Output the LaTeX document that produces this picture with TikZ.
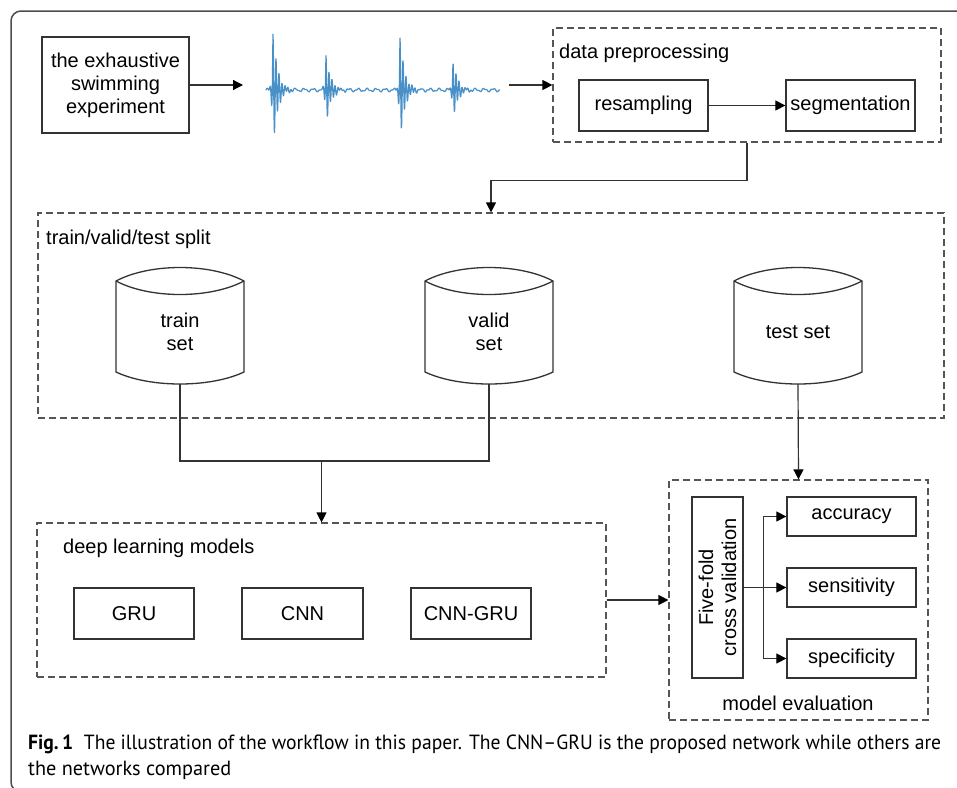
\documentclass[tikz,border=0pt]{standalone}
\usepackage{fontspec}
\setmainfont{Liberation Sans}
\newfontfamily\capfont{PT Sans}
\usetikzlibrary{arrows.meta,calc}
\definecolor{boxc}{HTML}{333333}
\definecolor{dashc}{HTML}{555555}
\definecolor{linec}{HTML}{333333}
\definecolor{wavec}{HTML}{4A90C8}
\definecolor{framec}{HTML}{4D4D4D}
\definecolor{capc}{HTML}{231F20}
\newsavebox\capboxA
\newsavebox\capboxB
\begin{document}
\sbox\capboxA{\capfont\fontsize{20.5}{24}\selectfont\textbf{Fig.\,1}\hspace{0.55em}The illustration of the workflow in this paper. The CNN–GRU is the proposed network while others are}%
\sbox\capboxB{\capfont\fontsize{20.5}{24}\selectfont the networks compared}%
\begin{tikzpicture}[x=1pt,y=-1pt,
  mainfont/.style={font=\fontsize{20}{23}\selectfont},
  box/.style={draw=boxc, line width=1.3pt, inner sep=0pt, align=center, mainfont},
  dbox/.style={draw=dashc, line width=1.2pt, dash pattern=on 7pt off 4pt, inner sep=0pt},
  conn/.style={draw=linec, line width=1.2pt},
  arr/.style={conn, -{Triangle[length=10pt,width=10pt,color=black]}},
  lbl/.style={anchor=west, inner sep=0pt, mainfont},
  cylnode/.style={inner sep=0pt, minimum width=128pt, minimum height=104pt, align=center, mainfont},
  cyl/.style={draw=boxc, line width=1.3pt},
  wave/.style={draw=wavec, line width=1.2pt, line join=round},
  declare function={envl(\t)=exp(max(min(-\t/4.5,\t/1.0),-30));
                    bu(\t)=envl(\t)*cos(mod(\t,3)*120);}
]
\clip (0,0) rectangle (957,787);
\fill[white] (0,0) rectangle (957,787);
% outer frame
\draw[framec, line width=1.5pt, rounded corners=10pt] (965,11) -- (11,11) -- (11,792) -- (965,792);

% top row
\node[box, minimum width=147pt, minimum height=96pt] (exp) at (115.5,85) {the exhaustive\\swimming\\experiment};
\coordinate (ws) at (243,85);
\coordinate (we) at (509,85);
\draw[arr] (exp.east) -- (ws);
\draw[wave] plot[domain=266:500, samples=940] (\x, {90 - 59*bu(\x-273) - 36*bu(\x-326) - 54*bu(\x-400) - 30*bu(\x-453) - 1.3*sin(mod(\x-266,9)*40) - 0.6*sin(mod(\x-266,4)*90)});

\node[dbox, minimum width=388pt, minimum height=114pt] (prep) at (747,85) {};
\node[lbl] (preplbl) at (559,53) {data preprocessing};
\node[box, minimum width=129pt, minimum height=51pt] (res) at (643.5,105.5) {resampling};
\node[box, minimum width=129pt, minimum height=51pt] (seg) at (850.5,105.5) {segmentation};
\draw[arr] (we) -- (prep.west);
\draw[arr] (res.east) -- (seg.west);

% split
\node[dbox, minimum width=906pt, minimum height=205pt] (split) at (491,315.5) {};
\node[lbl] (splitlbl) at (46,239) {train/valid/test split};
\draw[arr] (prep.south) -- ++(0,38) -| (split.north);

\node[cylnode] (train) at (180,332) {train\\set};
\node[cylnode] (valid) at (489,332) {valid\\set};
\node[cylnode] (test) at (798,332) {test set};
\foreach \n in {train,valid,test}{
  \begin{scope}[shift={(\n.center)}]
    \draw[cyl] (-64,-51) .. controls (-30,-69) and (30,-69) .. (64,-51) -- (64,40) .. controls (30,56) and (-30,56) .. (-64,40) -- cycle;
    \draw[cyl] (-64,-51) .. controls (-30,-33) and (30,-33) .. (64,-51);
  \end{scope}
}

% deep learning models
\node[dbox, minimum width=569pt, minimum height=154pt] (dl) at (321.5,600) {};
\node[lbl] (dllbl) at (63,548) {deep learning models};
\node[box, minimum width=120pt, minimum height=51pt] (gru) at (134,613.5) {GRU};
\node[box, minimum width=121pt, minimum height=51pt] (cnn) at (302.5,613.5) {CNN};
\node[box, minimum width=120pt, minimum height=51pt] (cnngru) at (471,613.5) {CNN-GRU};

\coordinate (m) at (321.5,461);
\draw[conn] (train.south) |- (m) -| (valid.south);
\draw[arr] (m) -- (dl.north);

% evaluation
\node[dbox, minimum width=259pt, minimum height=240pt] (eval) at (798.5,600) {};
\node[mainfont, inner sep=0pt] (evallbl) at (798,703) {model evaluation};
\draw[arr] (test.south) -- (eval.north);
\draw[arr] (dl.east) -- (eval.west);

\node[box, rotate=90, minimum width=181pt, minimum height=51pt] (ff) at (717.5,587.5) {Five-fold\\cross validation};
\node[box, minimum width=129pt, minimum height=39pt] (acc) at (851.5,516.5) {accuracy};
\node[box, minimum width=129pt, minimum height=39pt] (sens) at (851.5,587.5) {sensitivity};
\node[box, minimum width=129pt, minimum height=39pt] (spec) at (851.5,658.5) {specificity};
\draw[arr] (ff.south) -- (sens.west);
\draw[arr] ($(ff.south)+(20,0)$) |- (acc.west);
\draw[arr] ($(ff.south)+(20,0)$) |- (spec.west);

% caption
\pgfmathsetmacro\capr{913/\the\wd\capboxA}
\pgfmathsetmacro\caprb{203/\the\wd\capboxB}
\node[anchor=base west, inner sep=0pt, text=capc] (cap1) at (28,749) {\scalebox{\capr}[1]{\usebox\capboxA}};
\node[anchor=base west, inner sep=0pt, text=capc] (cap2) at (28,775) {\scalebox{\caprb}[1]{\usebox\capboxB}};
\end{tikzpicture}
\end{document}
